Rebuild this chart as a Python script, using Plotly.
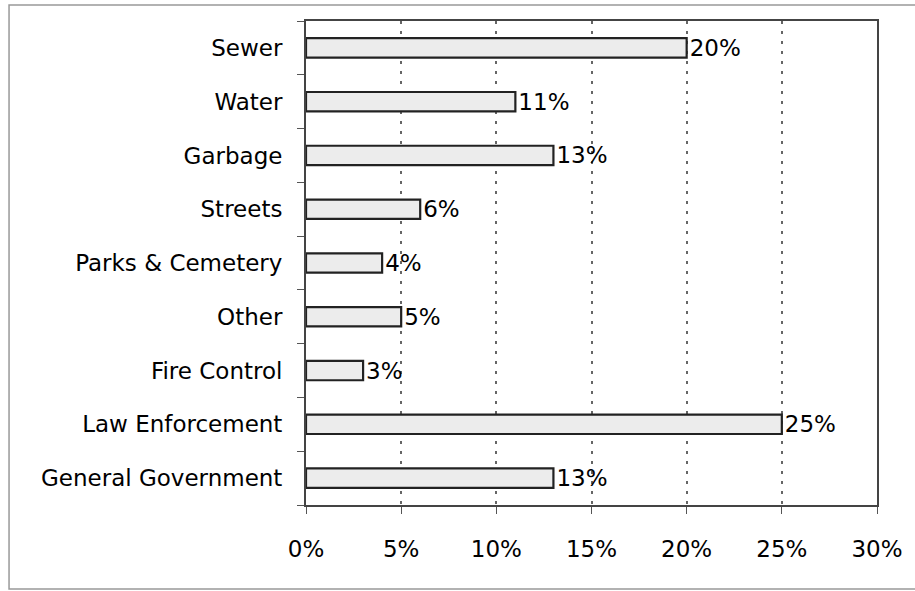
import plotly.graph_objects as go

categories = ["Sewer", "Water", "Garbage", "Streets", "Parks & Cemetery", "Other",
              "Fire Control", "Law Enforcement", "General Government"]
values = [20, 11, 13, 6, 4, 5, 3, 25, 13]
labels = [f"{v}%" for v in values]
tick_vals = [0, 5, 10, 15, 20, 25, 30]
tick_text = [f"{v}%" for v in tick_vals]

FONT = "DejaVu Sans"

fig = go.Figure()
fig.add_trace(go.Bar(
    x=values, y=categories, orientation="h",
    text=labels, textposition="outside", cliponaxis=False,
    constraintext="none",
    textfont=dict(family=FONT, size=23, color="#000"),
    marker=dict(color="#ececec", line=dict(color="#222", width=2.2)),
    width=0.36,
))

fig.update_layout(
    width=915, height=591,
    margin=dict(l=306, r=36, t=21, b=86),
    paper_bgcolor="white", plot_bgcolor="white",
    showlegend=False,
    font=dict(family=FONT, size=23, color="#000"),
    xaxis=dict(
        range=[0, 30], tickvals=tick_vals, ticktext=tick_text,
        showgrid=True, gridcolor="#666", griddash="3px,7px", gridwidth=1.5,
        ticks="outside", ticklen=7, tickcolor="#555",
        ticklabelstandoff=15,
        showline=True, linecolor="#444", linewidth=2, mirror=True,
        zeroline=False,
        tickfont=dict(family=FONT, size=23, color="#000"),
    ),
    yaxis=dict(
        categoryorder="array", categoryarray=categories[::-1],
        tickson="boundaries", ticks="outside", ticklen=7, tickcolor="#555",
        ticklabelstandoff=17,
        showline=True, linecolor="#444", linewidth=2, mirror=True,
        showgrid=False,
        tickfont=dict(family=FONT, size=23, color="#000"),
    ),
    shapes=[dict(type="rect", xref="paper", yref="paper",
                 x0=-298/573, x1=1 + 45/573, y0=-84/484, y1=1 + 16/484,
                 line=dict(color="#999", width=1.5), fillcolor="rgba(0,0,0,0)")],
)

fig.write_html("out.html")
